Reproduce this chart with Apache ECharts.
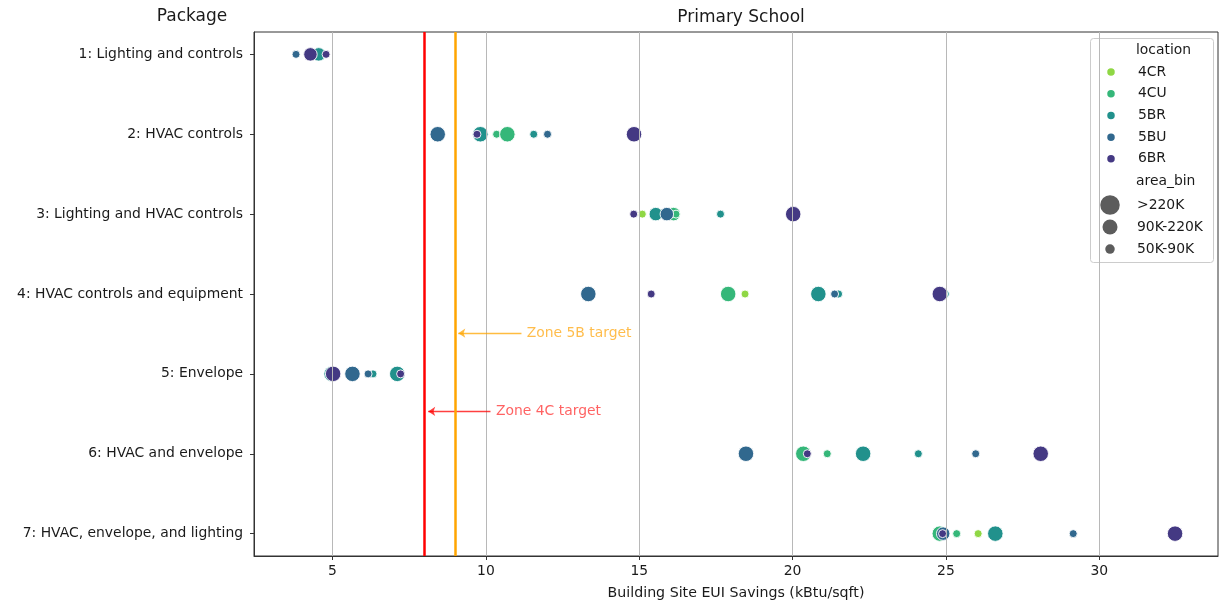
<!DOCTYPE html>
<html>
<head>
<meta charset="utf-8">
<script src="https://cdn.jsdelivr.net/npm/echarts@6/dist/echarts.min.js"></script>
<style>
  html, body { margin: 0; padding: 0; background: #fff; }
  #chart { width: 1225px; height: 607px; }
</style>
</head>
<body>
<div id="chart"></div>
<script>
// Package names, top to bottom (row index = position in this list)
const packages = [
  '1: Lighting and controls',
  '2: HVAC controls',
  '3: Lighting and HVAC controls',
  '4: HVAC controls and equipment',
  '5: Envelope',
  '6: HVAC and envelope',
  '7: HVAC, envelope, and lighting'
];
const xTicks = [5, 10, 15, 20, 25, 30];

// Points per location: [EUI savings, package row, area bin]
const loc4CR = [
  [15.10, 2, '50K-90K'],
  [18.45, 3, '50K-90K'],
  [26.05, 6, '50K-90K']
];
const loc4CU = [
  [10.35, 1, '50K-90K'], [10.70, 1, '>220K'],
  [16.12, 2, '90K-220K'], [16.20, 2, '50K-90K'],
  [17.90, 3, '>220K'],
  [20.35, 5, '>220K'], [21.13, 5, '50K-90K'],
  [24.80, 6, '>220K'], [25.35, 6, '50K-90K']
];
const loc5BR = [
  [4.55, 0, '90K-220K'],
  [9.82, 1, '>220K'], [11.56, 1, '50K-90K'],
  [15.54, 2, '90K-220K'], [17.65, 2, '50K-90K'],
  [20.84, 3, '>220K'], [21.50, 3, '50K-90K'], [24.98, 3, '50K-90K'],
  [4.97, 4, '>220K'], [6.32, 4, '50K-90K'], [7.11, 4, '>220K'],
  [22.30, 5, '>220K'], [24.10, 5, '50K-90K'],
  [26.61, 6, '>220K']
];
const loc5BU = [
  [3.81, 0, '50K-90K'],
  [8.43, 1, '>220K'], [12.01, 1, '50K-90K'],
  [15.90, 2, '90K-220K'],
  [13.34, 3, '>220K'], [21.37, 3, '50K-90K'],
  [5.65, 4, '>220K'], [6.16, 4, '50K-90K'],
  [18.48, 5, '>220K'], [25.97, 5, '50K-90K'],
  [24.91, 6, '90K-220K'], [29.15, 6, '50K-90K']
];
const loc6BR = [
  [4.28, 0, '90K-220K'], [4.79, 0, '50K-90K'],
  [9.71, 1, '50K-90K'], [14.83, 1, '>220K'],
  [14.82, 2, '50K-90K'], [20.02, 2, '>220K'],
  [15.39, 3, '50K-90K'], [24.80, 3, '>220K'],
  [5.02, 4, '>220K'], [7.22, 4, '50K-90K'],
  [20.48, 5, '50K-90K'], [28.09, 5, '>220K'],
  [24.89, 6, '50K-90K'], [32.47, 6, '>220K']
];

const locations = ['4CR', '4CU', '5BR', '5BU', '6BR'];
const locationPoints = [loc4CR, loc4CU, loc5BR, loc5BU, loc6BR];
const locationColors = ['#8fd744', '#35b779', '#21918c', '#31688e', '#443983'];

const areaBins = ['>220K', '90K-220K', '50K-90K'];
const binSizes = { '>220K': 15.5, '90K-220K': 13.5, '50K-90K': 8 };
const binLegendSizes = [19.5, 15, 9.5];

// Savings targets by climate zone, with their callout positions
const targets = [
  { name: 'Zone 4C target', value: 8, color: '#ff0000', textColor: '#ff3b3b', row: 4.47, tail: 10.15, tip: 8.12, textAt: 10.33 },
  { name: 'Zone 5B target', value: 9, color: '#ffa500', textColor: '#ffad1f', row: 3.49, tail: 11.16, tip: 9.10, textAt: 11.33 }
];

const FONT = 'DejaVu Sans';
const FS = 13.9;
const TEXT = '#1a1a1a';

const chart = echarts.init(document.getElementById('chart'));

const scatterSeries = locations.map((loc, i) => ({
  name: loc,
  type: 'scatter',
  z: 3,
  data: locationPoints[i].map(p => ({ value: [p[0], p[1]], symbolSize: binSizes[p[2]] })),
  itemStyle: { color: locationColors[i], borderColor: '#ffffff', borderWidth: 0.9, opacity: 1 },
  emphasis: { disabled: true }
}));

// Empty series that only carry the size-legend entries
const binSeries = areaBins.map(b => ({
  name: b, type: 'scatter', data: [], itemStyle: { color: '#333333' }
}));

// Vertical grid lines at the tick values
const gridSeries = {
  type: 'scatter', data: [], z: 1, silent: true,
  markLine: {
    silent: true, symbol: ['none', 'none'], animation: false,
    label: { show: false },
    lineStyle: { color: '#b8b8b8', width: 1, type: 'solid' },
    data: xTicks.map(v => ({ xAxis: v }))
  }
};

// Target lines and their arrows
const targetSeries = targets.map(t => ({
  type: 'scatter', z: 4, silent: true,
  symbolSize: 0,
  data: [{ value: [t.textAt, t.row], name: t.name }],
  label: {
    show: true, position: 'right', distance: 0, formatter: '{b}',
    color: t.textColor, fontFamily: FONT, fontSize: FS
  },
  markLine: {
    silent: true, animation: false,
    label: { show: false },
    data: [
      [{ xAxis: t.value, yAxis: -0.28, symbol: 'none' }, { xAxis: t.value, yAxis: 6.28, symbol: 'none', lineStyle: { color: t.color, width: 2.5 } }],
      [{ coord: [t.tail, t.row], symbol: 'none' }, { coord: [t.tip, t.row], symbol: 'arrow', symbolSize: [7, 7], lineStyle: { color: t.color, width: 1.3, opacity: 0.75 } }]
    ],
    lineStyle: { color: t.color, width: 2.5, type: 'solid' }
  }
}));

const LEG_CX = 1110;   // legend marker centre
const LEG_TX = 1137;   // legend text start
const TXT_H = FS;      // legend row text height

function legendTextStyle(d) {
  return { fontFamily: FONT, fontSize: FS, color: TEXT, padding: [0, 0, 0, LEG_TX - (LEG_CX + d / 2 + 5)] };
}

const option = {
  animation: false,
  backgroundColor: '#ffffff',
  textStyle: { fontFamily: FONT },
  title: [
    { text: 'Primary School', left: 736, top: 4, textAlign: 'center',
      textStyle: { fontFamily: FONT, fontSize: 17, fontWeight: 'normal', color: TEXT } },
    { text: 'Package', left: 187, top: 3, textAlign: 'center',
      textStyle: { fontFamily: FONT, fontSize: 17, fontWeight: 'normal', color: TEXT } }
  ],
  grid: { left: 254, right: 7, top: 32, bottom: 51, show: true, borderColor: '#333333', borderWidth: 1, backgroundColor: 'transparent' },
  xAxis: {
    type: 'value', min: 2.44, max: 33.87,
    name: 'Building Site EUI Savings (kBtu/sqft)', nameLocation: 'middle', nameGap: 30,
    nameTextStyle: { fontFamily: FONT, fontSize: 14.2, color: TEXT },
    axisLine: { show: true, onZero: false, lineStyle: { color: '#333333' } },
    axisTick: { show: true, length: 4, customValues: xTicks, lineStyle: { color: '#333333' } },
    axisLabel: { customValues: xTicks, margin: 8, fontFamily: FONT, fontSize: FS, color: TEXT },
    splitLine: { show: false }
  },
  yAxis: {
    type: 'value', inverse: true, min: -0.28, max: 6.28,
    axisLine: { show: true, onZero: false, lineStyle: { color: '#333333' } },
    axisTick: { show: true, length: 4, customValues: packages.map((p, i) => i), lineStyle: { color: '#333333' } },
    axisLabel: {
      customValues: packages.map((p, i) => i), margin: 11,
      formatter: v => packages[Math.round(v)] || '',
      fontFamily: FONT, fontSize: FS, color: TEXT
    },
    splitLine: { show: false }
  },
  legend: [
    {
      data: locations.map(l => ({ name: l, icon: 'circle' })),
      orient: 'vertical', left: LEG_CX - 4.75, top: 72 - TXT_H / 2, padding: 0,
      itemWidth: 9.5, itemHeight: 9.5, itemGap: 21.6 - TXT_H,
      textStyle: legendTextStyle(9.5), selectedMode: false
    }
  ].concat(areaBins.map((b, i) => ({
    data: [{ name: b, icon: 'circle' }],
    orient: 'vertical', left: LEG_CX - binLegendSizes[i] / 2,
    top: 205 + i * 22 - Math.max(binLegendSizes[i], TXT_H) / 2, padding: 0,
    itemWidth: binLegendSizes[i], itemHeight: binLegendSizes[i],
    textStyle: legendTextStyle(binLegendSizes[i]), selectedMode: false
  }))),
  graphic: [
    { type: 'rect', left: 1090, top: 38, shape: { width: 123, height: 224, r: 3 },
      style: { fill: 'rgba(255,255,255,0.85)', stroke: '#cccccc', lineWidth: 1 }, z: 0 },
    { type: 'text', left: 1136, top: 43, style: { text: 'location', font: FS + 'px "DejaVu Sans"', fill: TEXT } },
    { type: 'text', left: 1136, top: 174, style: { text: 'area_bin', font: FS + 'px "DejaVu Sans"', fill: TEXT } }
  ],
  series: [gridSeries].concat(targetSeries, scatterSeries, binSeries)
};

chart.setOption(option);
</script>
</body>
</html>
